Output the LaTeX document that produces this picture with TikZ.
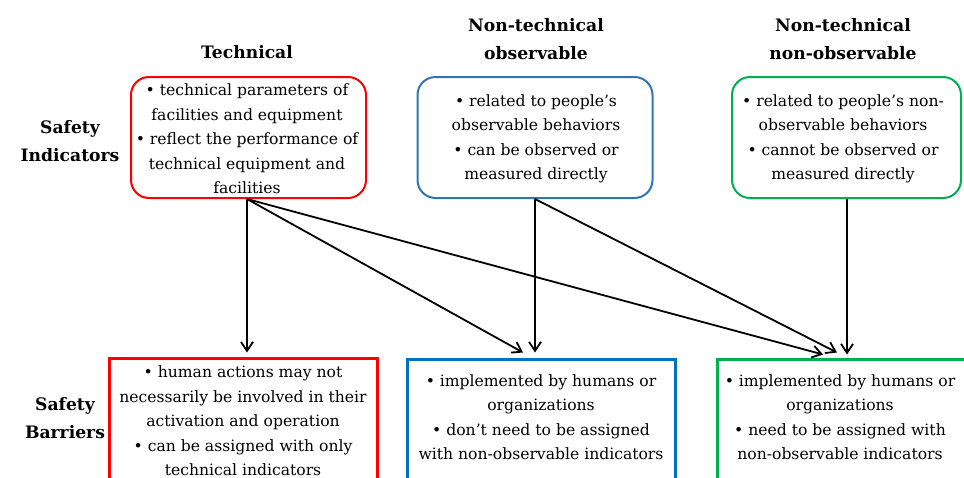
\documentclass[tikz,border=0pt]{standalone}
\usepackage{fontspec}
\setmainfont{DejaVu Serif}[Scale=0.78]
\usetikzlibrary{arrows.meta,calc}
\definecolor{cred}{RGB}{255,0,0}
\definecolor{cbluet}{RGB}{46,117,182}
\definecolor{cblueb}{RGB}{0,112,192}
\definecolor{cgreen}{RGB}{0,176,80}
\begin{document}
\begin{tikzpicture}[x=1pt,y=-1pt,
  body/.style={align=center,font=\rmfamily\fontsize{20}{24.5}\selectfont,inner sep=0pt},
  head/.style={align=center,font=\rmfamily\fontsize{22}{28}\selectfont\bfseries,inner sep=0pt},
  topbox/.style={draw=#1,line width=2pt,rounded corners=18pt,inner sep=0pt,minimum height=121pt},
  botbox/.style={draw=#1,line width=3pt,inner sep=0pt,anchor=north,minimum width=268pt,minimum height=160pt},
  conn/.style={-{Straight Barb[length=9pt,width=12pt]},line width=1.8pt}]
\useasboundingbox (0,0) rectangle (964,477);
\clip (0,0) rectangle (964,477);

% headings
\node[head] (hT) at (247,52) {Technical};
\node[head] (hO) at (536,39) {Non-technical\\observable};
\node[head] (hN) at (843,39) {Non-technical\\non-observable};
\node[head] (hSI) at (70,141) {Safety\\Indicators};
\node[head] (hSB) at (65,418) {Safety\\Barriers};

% top boxes
\node[topbox=cred,minimum width=235pt] (ti) at (248.5,137.5) {};
\node[topbox=cbluet,minimum width=235pt] (oi) at (535,137.5) {};
\node[topbox=cgreen,minimum width=229pt] (ni) at (846.5,137.5) {};

\node[body] (tit) at (247,139) {• technical parameters of\\facilities and equipment\\• reflect the performance of\\technical equipment and\\facilities};
\node[body] (oit) at (536,139) {• related to people’s\\observable behaviors\\• can be observed or\\measured directly};
\node[body] (nit) at (843,139) {• related to people’s non-\\observable behaviors\\• cannot be observed or\\measured directly};

% bottom boxes
\node[botbox=cred] (tb) at (243.5,356.5) {};
\node[botbox=cblueb] (ob) at (541.5,357.5) {};
\node[botbox=cgreen] (nb) at (851.5,357.5) {};

\node[body] (tbt) at (243,421) {•\ human actions may not\\necessarily be involved in their\\activation and operation\\• can be assigned with only\\technical indicators};
\node[body] (obt) at (541,417) {• implemented by humans or\\organizations\\• don’t need to be assigned\\with non-observable indicators};
\node[body] (nbt) at (840,417) {• implemented by humans or\\organizations\\•\ need to be assigned with\\non-observable indicators};

% arrow end points
\coordinate (sT) at (ti.south -| 247,0);
\coordinate (sO) at (oi.south);
\coordinate (sN) at (ni.south -| 847,0);
\coordinate (eTT) at ($(tb.north -| sT)+(0,-4)$);
\coordinate (eTO) at ($(ob.north -| 523,0)+(0,-5)$);
\coordinate (eOO) at ($(ob.north -| sO)+(0,-5)$);
\coordinate (eTN) at ($(nb.north -| 823,0)+(0,-3)$);
\coordinate (eON) at ($(nb.north -| 837,0)+(0,-5)$);
\coordinate (eNN) at ($(nb.north -| sN)+(0,-3)$);

\draw[conn] (sT) -- (eTT);
\draw[conn] (sT) -- (eTO);
\draw[conn] (sT) -- (eTN);
\draw[conn] (sO) -- (eOO);
\draw[conn] (sO) -- (eON);
\draw[conn] (sN) -- (eNN);
\end{tikzpicture}
\end{document}
